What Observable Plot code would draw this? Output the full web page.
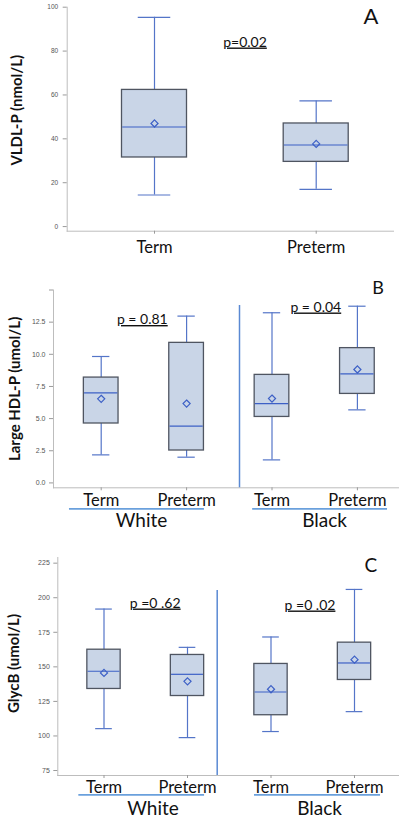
<!DOCTYPE html>
<html><head><meta charset="utf-8">
<script src="https://cdn.jsdelivr.net/npm/d3@7"></script>
<script src="https://cdn.jsdelivr.net/npm/@observablehq/plot@0.6"></script>
<style>
body{margin:0;background:#fff;width:400px;}
#chart > svg{display:block;}
</style></head><body><div id="chart"></div>
<script>
// ---------- DATA ----------
// Panel A: VLDL-P (nmol/L)
const stagesA = ["Term", "Preterm"];
const aLow  = [14.4, 17.0];
const aQ1   = [31.5, 29.5];
const aMed  = [45.4, 37.2];
const aQ3   = [62.3, 47.0];
const aHigh = [95.4, 57.3];
const aMean = [47.0, 37.7];
const aTicks = [0, 20, 40, 60, 80, 100];
const aP = "p=0.02";

// Panels B and C: groups x stages
const groups = ["White", "Black"];
const stages = ["Term", "Preterm"];

// Panel B: Large HDL-P (umol/L)  order: White Term, White Preterm, Black Term, Black Preterm
const bLow  = [2.18, 2.0, 1.79, 5.68];
const bQ1   = [4.62, 2.52, 5.13, 6.92];
const bMed  = [7.0, 4.41, 6.17, 8.48];
const bQ3   = [8.19, 10.89, 8.40, 10.48];
const bHigh = [9.83, 12.97, 13.23, 13.74];
const bMean = [6.54, 6.17, 6.56, 8.82];
const bTicks = [0, 2.5, 5, 7.5, 10, 12.5, 15];
const bP = ["p = 0.81", "p = 0.04"];

// Panel C: GlycB (umol/L)
const cLow  = [105.3, 98.8, 103.2, 117.6];
const cQ1   = [134.0, 128.9, 115.0, 140.5];
const cMed  = [146.8, 144.6, 131.8, 152.8];
const cQ3   = [162.4, 158.6, 152.1, 167.5];
const cHigh = [191.8, 164.1, 171.6, 206.0];
const cMean = [145.6, 139.5, 133.8, 155.2];
const cTicks = [75, 100, 125, 150, 175, 200, 225];
const cP = ["p =0 .62", "p =0 .02"];

// ---------- STYLE ----------
const boxFill = "#c9d5e7", boxStroke = "#4f5561", whisker = "#5475c8",
      medianC = "#3d60c6", axisGray = "#bdbdbd", sepBlue = "#5a89d3", ulBlue = "#6aa0dc";
const sans = "Lato, 'Open Sans', sans-serif";
const tickFont = "'Liberation Sans', Arial, sans-serif";

const groupKeys = groups.flatMap(g => stages.map(s => g + " " + s));

function rowsFrom(keys, lo, q1, med, q3, hi, mean) {
  return keys.map((k, i) => ({key: k, lo: lo[i], q1: q1[i], med: med[i], q3: q3[i], hi: hi[i], mean: mean[i]}));
}

function panel(cfg) {
  const rows = rowsFrom(cfg.keys, cfg.lo, cfg.q1, cfg.med, cfg.q3, cfg.hi, cfg.mean);
  const bw = cfg.step * (1 - cfg.pad);
  const cap = bw / 4;
  const marks = [
    Plot.frame({anchor: "left", stroke: axisGray}),
    Plot.frame({anchor: "bottom", stroke: axisGray}),
    Plot.axisY({ticks: cfg.ticks, tickFormat: cfg.fmt, tickSize: 4, tickPadding: cfg.yPad, fontSize: cfg.tickSize,
      fontFamily: tickFont, stroke: "#9a9a9a", fill: "#555", label: null}),
    Plot.axisX({tickSize: 3, tickPadding: cfg.xPad, fontSize: 16.5, fontFamily: sans, stroke: "#9a9a9a", fill: "#111",
      tickFormat: k => k.split(" ").pop(), label: null}),
    Plot.ruleX(rows, {x: "key", y1: "lo", y2: "q1", stroke: whisker, strokeWidth: 1.2}),
    Plot.ruleX(rows, {x: "key", y1: "q3", y2: "hi", stroke: whisker, strokeWidth: 1.2}),
    Plot.tickY(rows, {x: "key", y: "lo", insetLeft: cap, insetRight: cap, stroke: whisker, strokeWidth: 1.2}),
    Plot.tickY(rows, {x: "key", y: "hi", insetLeft: cap, insetRight: cap, stroke: whisker, strokeWidth: 1.2}),
    Plot.barY(rows, {x: "key", y1: "q1", y2: "q3", inset: 0, fill: boxFill, stroke: boxStroke, strokeWidth: 1.3}),
    Plot.tickY(rows, {x: "key", y: "med", stroke: medianC, strokeWidth: 1.2, insetLeft: 0.7, insetRight: 0.7}),
    Plot.dot(rows, {x: "key", y: "mean", symbol: "diamond2", r: 3.2, stroke: medianC, strokeWidth: 1.2}),
    Plot.text([cfg.ylabel], {frameAnchor: "left", textAnchor: "middle", rotate: -90, dx: cfg.ylDx, dy: cfg.ylDy,
      fontWeight: "bold", fontSize: 15, fontFamily: sans, fill: "#111"}),
    Plot.text([cfg.letter], {frameAnchor: "top-right", textAnchor: "end", lineAnchor: "bottom",
      dx: cfg.letDx, dy: cfg.letDy, fontSize: cfg.letSize, fontFamily: sans, fill: "#111"})
  ];
  for (const p of cfg.pvals) {
    marks.push(Plot.text([p.text], {x: () => p.key, frameAnchor: "top", textAnchor: "middle", lineAnchor: "bottom",
      dx: p.dx, dy: p.dy, fontSize: 14, fontFamily: sans, fill: "#111"}));
  }
  if (cfg.groupLabels) {
    for (const g of cfg.groupLabels) {
      marks.push(Plot.text([g.name], {x: () => g.name + " " + stages[0], frameAnchor: "bottom", textAnchor: "middle",
        lineAnchor: "bottom", dx: g.dx, dy: cfg.grpDy, fontSize: 19, fontFamily: sans, fill: "#111"}));
      marks.push(Plot.ruleY([cfg.domain[0]], {x1: () => g.name + " " + stages[0], x2: () => g.name + " " + stages[1],
        dy: cfg.ulDy, insetLeft: g.ulL, insetRight: g.ulR, stroke: ulBlue, strokeWidth: 1.8}));
    }
    marks.push(Plot.ruleX([groups[1] + " " + stages[0]], {x: d => d, dx: cfg.sepDx, insetTop: cfg.sepTop,
      stroke: sepBlue, strokeWidth: 1.5}));
  }
  const svg = Plot.plot({
    width: 400, height: cfg.height,
    marginTop: cfg.mt, marginBottom: cfg.mb, marginLeft: cfg.ml, marginRight: cfg.mr,
    style: {fontFamily: sans, background: "white", overflow: "visible"},
    x: {type: "band", domain: cfg.keys, range: [cfg.c0 - cfg.step / 2, cfg.c0 + cfg.step * (cfg.keys.length - 0.5)],
        paddingInner: cfg.pad, paddingOuter: cfg.pad / 2, round: false},
    y: {domain: cfg.domain},
    marks
  });
  d3.select(svg).selectAll("text").filter(function() { return /^p\s?=/.test(this.textContent); })
    .style("text-decoration", "underline");
  document.getElementById("chart").appendChild(svg);
}

panel({
  keys: stagesA, lo: aLow, q1: aQ1, med: aMed, q3: aQ3, hi: aHigh, mean: aMean,
  ticks: aTicks, fmt: d3.format("d"), tickSize: 6.5, yPad: 5, domain: [-2.1, 100],
  height: 268, mt: 6.7, mb: 37.3, ml: 66.7, mr: 7,
  c0: 154, step: 161.7, pad: 0.598, xPad: 7,
  ylabel: "VLDL-P (nmol/L)", ylDx: -49.7, ylDy: -9,
  letter: "A", letDx: -15, letDy: 16.6, letSize: 22,
  pvals: [{text: aP, key: stagesA[0], dx: 90.5, dy: 39.3}]
});

panel({
  keys: groupKeys, lo: bLow, q1: bQ1, med: bMed, q3: bQ3, hi: bHigh, mean: bMean,
  ticks: bTicks, fmt: d => d === 15 ? "" : d3.format(".1f")(d), tickSize: 7, yPad: 4, domain: [-0.38, 15],
  height: 268, mt: 21.5, mb: 48.7, ml: 53, mr: 2,
  c0: 100.7, step: 85.4, pad: 0.594, xPad: 3.7,
  ylabel: "Large HDL-P (umol/L)", ylDx: -38, ylDy: 0,
  letter: "B", letDx: -14.7, letDy: 3.8, letSize: 18,
  pvals: [{text: bP[0], key: "White Term", dx: 41.1, dy: 34}, {text: bP[1], key: "Black Term", dx: 43.8, dy: 21.5}],
  groupLabels: [{name: "White", dx: 40.3, ulL: -14.4, ulR: -0.5}, {name: "Black", dx: 52.5, ulL: -2, ulR: -12.8}],
  grpDy: 39.4, ulDy: 21, sepDx: -32.5, sepTop: 15.5
});

panel({
  keys: groupKeys, lo: cLow, q1: cQ1, med: cMed, q3: cQ3, hi: cHigh, mean: cMean,
  ticks: cTicks, fmt: d3.format("d"), tickSize: 7, yPad: 4, domain: [71.4, 229.1],
  height: 284, mt: 21, mb: 45, ml: 57.3, mr: 2,
  c0: 103.5, step: 83.5, pad: 0.601, xPad: 2.7,
  ylabel: "GlycB (umol/L)", ylDx: -43.8, ylDy: -3,
  letter: "C", letDx: -21.3, letDy: 14.7, letSize: 19,
  pvals: [{text: cP[0], key: "White Term", dx: 51.2, dy: 50}, {text: cP[1], key: "Black Term", dx: 39, dy: 52}],
  groupLabels: [{name: "White", dx: 49, ulL: -8.5, ulR: -0.4}, {name: "Black", dx: 48.5, ulL: 0.15, ulR: -9.4}],
  grpDy: 39, ulDy: 19.3, sepDx: -53.8, sepTop: 33
});
</script>
</body></html>
